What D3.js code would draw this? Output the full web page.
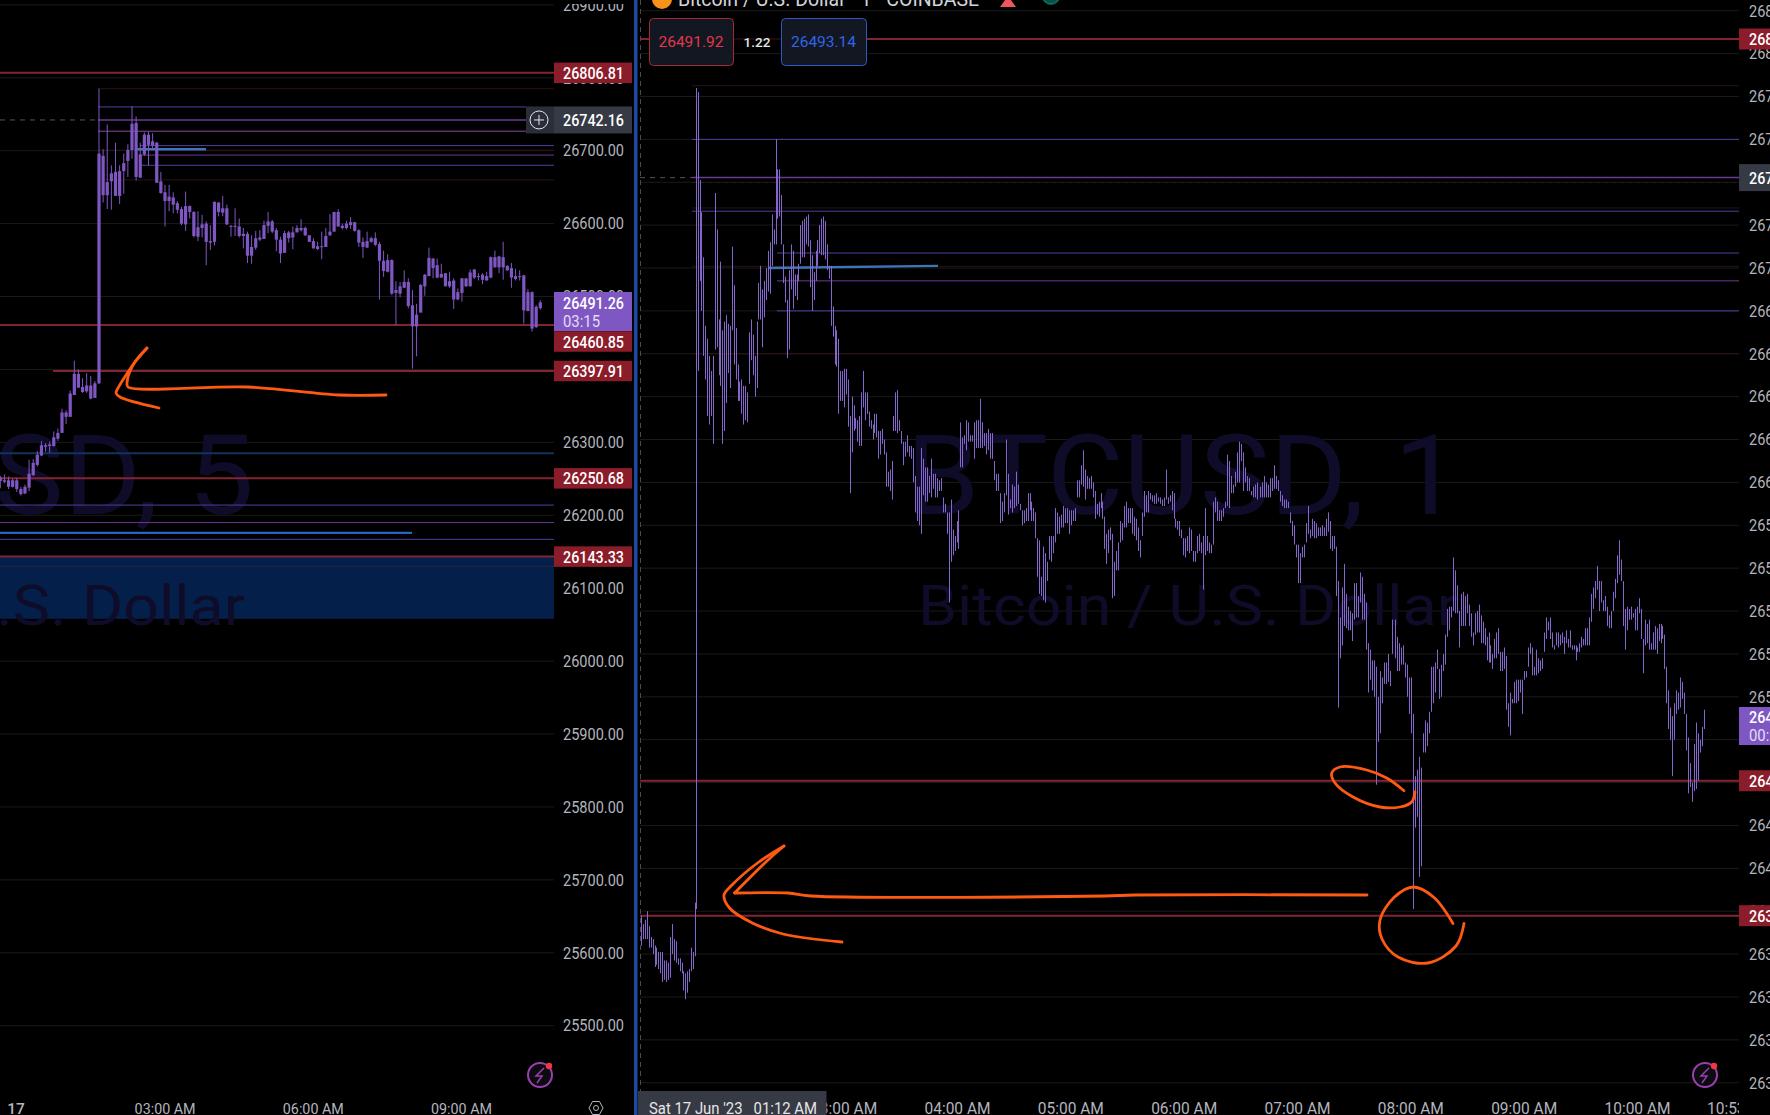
<!DOCTYPE html>
<html><head><meta charset="utf-8">
<script src="https://d3js.org/d3.v7.min.js"></script>
<style>html,body{margin:0;padding:0;background:#000;overflow:hidden}svg{display:block}text{font-family:Roboto,sans-serif}</style>
</head><body><svg id="c" width="1770" height="1115"></svg>
<script>
// ---------- 5 minute chart (left) ----------
const leftHigh=[26254,26256,26253,26250,26251,26239,26242,26276,26277,26288,26302,26299,26301,26315,26319,26346,26344,26371,26412,26400,26388,26395,26391,26384,26785,
26702,26736,26680,26711,26680,26696,26709,26761,26747,26711,26725,26726,26724,26712,26671,26653,26653,26643,26631,26623,26644,26625,26617,26617,26612,26603,26598,26630,26629,26638,26626,26598,26621,26607,26594,26589,26584,26590,26591,26604,26616,26605,26594,
26582,26590,26590,26596,26598,26606,26596,26584,26580,26575,26589,26594,26613,26616,26620,26600,26604,26609,26602,26592,26581,26589,26582,26588,26575,26563,26558,26551,26521,26520,26536,26525,26509,26490,26517,26531,26567,26553,26552,26545,26532,26534,26525,26511,26525,26525,26537,26538,26532,26532,26534,26555,26563,26556,26575,26543,26546,26538,26536,26530,26510,26507,26488,26495];
const leftBodyTop=[26252,26248,26248,26248,26248,26236,26239,26257,26272,26283,26296,26296,26297,26307,26313,26341,26341,26367,26394,26394,26376,26378,26378,26381,26696,
26693,26657,26669,26671,26672,26683,26701,26737,26738,26695,26722,26722,26713,26711,26658,26643,26637,26636,26628,26620,26624,26624,26616,26595,26599,26600,26576,26630,26629,26621,26621,26597,26597,26596,26586,26586,26568,26580,26581,26598,26603,26603,26591,
26578,26587,26588,26588,26594,26594,26594,26584,26576,26569,26569,26583,26589,26616,26616,26597,26600,26602,26602,26591,26575,26576,26580,26580,26572,26549,26550,26550,26509,26514,26520,26520,26488,26475,26516,26530,26553,26552,26543,26531,26532,26521,26522,26506,26525,26525,26533,26537,26528,26530,26528,26554,26554,26555,26554,26542,26539,26528,26528,26529,26506,26506,26486,26492];
const leftBodyBottom=[26247,26246,26239,26239,26236,26229,26230,26238,26255,26269,26282,26294,26295,26295,26305,26313,26335,26335,26365,26375,26369,26370,26360,26361,26381,
26639,26639,26658,26638,26638,26672,26686,26701,26664,26663,26695,26708,26707,26656,26642,26631,26631,26626,26619,26600,26599,26616,26583,26582,26594,26575,26574,26575,26616,26615,26599,26596,26596,26583,26583,26556,26556,26567,26578,26579,26597,26589,26578,
26559,26560,26580,26581,26588,26591,26584,26575,26566,26565,26568,26568,26584,26589,26596,26594,26594,26598,26590,26574,26568,26567,26575,26571,26549,26535,26534,26504,26505,26504,26512,26487,26459,26459,26478,26514,26528,26539,26526,26526,26514,26514,26496,26496,26505,26514,26514,26526,26527,26523,26522,26526,26540,26540,26540,26536,26526,26524,26527,26481,26480,26456,26458,26484];
const leftLow=[26237,26244,26236,26238,26232,26227,26229,26233,26254,26267,26281,26287,26286,26294,26302,26313,26325,26335,26365,26375,26368,26368,26359,26361,26380,
26629,26620,26619,26638,26627,26641,26664,26689,26659,26663,26693,26680,26703,26656,26641,26596,26617,26614,26614,26598,26590,26607,26581,26576,26581,26543,26564,26570,26610,26610,26598,26582,26583,26581,26566,26546,26545,26564,26576,26579,26587,26587,26562,
26546,26560,26574,26565,26588,26589,26583,26575,26566,26564,26551,26568,26583,26589,26596,26592,26592,26593,26589,26568,26553,26567,26574,26569,26496,26527,26533,26502,26461,26499,26512,26484,26401,26418,26478,26501,26528,26525,26525,26526,26514,26512,26483,26495,26493,26513,26514,26524,26522,26517,26522,26525,26540,26532,26523,26535,26512,26522,26522,26463,26480,26452,26457,26482];
const spikeIndex=24;

// ---------- 1 minute chart (right), [high, low] per minute ----------
const barsBeforeSpike=[[26398,26384],[26394,26387],[26396,26387],[26400,26387],[26393,26383],[26388,26383],[26387,26380],[26384,26374],[26383,26375],[26381,26373],[26381,26371],[26381,26367],[26377,26368],[26377,26367],[26376,26368],[26388,26369],[26394,26380],[26387,26377],[26386,26376],[26378,26375],[26378,26372],[26376,26371],[26372,26363],[26371,26359],[26372,26362],[26373,26367],[26383,26372],[26381,26373],[26404,26379]];
const barsSpikeToThree=[[26784,26401],[26782,26652],[26741,26694],[26726,26680],[26705,26659],[26673,26648],[26667,26631],[26659,26627],[26652,26631],[26659,26618],[26735,26662],[26718,26663],[26676,26650],[26703,26645],[26671,26618],[26675,26624],[26678,26637],[26674,26651],[26673,26644],[26710,26671],[26692,26655],[26672,26648],[26655,26638],[26647,26638],[26648,26632],[26645,26627],[26645,26629],[26642,26628],[26670,26646],[26676,26657],[26669,26650],[26659,26640],[26675,26644],[26693,26676],[26701,26676],[26690,26663],[26694,26677],[26700,26685],[26708,26689],[26712,26688],[26725,26701],[26718,26711],[26760,26711],[26746,26723],[26746,26724],[26734,26711],[26711,26693],[26696,26684],[26685,26658],[26699,26662],[26711,26690],[26708,26681],[26697,26687],[26697,26685],[26702,26694],[26720,26702],[26722,26705],[26723,26705],[26724,26711],[26725,26710],[26713,26691],[26706,26680],[26698,26685],[26708,26694],[26713,26701],[26720,26707],[26723,26706],[26724,26706],[26722,26704],[26711,26699],[26701,26695],[26701,26673],[26682,26668],[26673,26655],[26671,26654],[26667,26632],[26652,26638],[26652,26638],[26653,26635],[26653,26641],[26648,26626],[26631,26595],[26640,26614],[26636,26624],[26630,26625],[26629,26619],[26631,26617],[26642,26617],[26652,26635],[26642,26629],[26642,26632],[26633,26626],[26629,26625],[26627,26620],[26632,26623],[26632,26621],[26624,26611],[26624,26613],[26625,26618],[26620,26613],[26614,26598],[26605,26598],[26606,26596],[26610,26592],[26631,26624],[26642,26624],[26643,26623]];
const barsThreeToSix=[[26629,26624],[26624,26618],[26619,26608],[26619,26612],[26622,26614],[26617,26612],[26617,26611],[26616,26600],[26603,26586],[26598,26582],[26598,26580],[26616,26576],[26611,26594],[26607,26591],[26607,26591],[26603,26595],[26611,26593],[26604,26597],[26604,26593],[26602,26593],[26601,26596],[26602,26596],[26593,26586],[26590,26586],[26586,26576],[26586,26544],[26592,26563],[26578,26566],[26575,26568],[26582,26572],[26587,26569],[26628,26607],[26621,26607],[26622,26618],[26629,26615],[26628,26619],[26622,26619],[26622,26619],[26628,26611],[26629,26616],[26629,26616],[26639,26616],[26628,26616],[26623,26617],[26623,26613],[26625,26615],[26623,26611],[26623,26611],[26610,26601],[26604,26596],[26604,26596],[26595,26581],[26591,26582],[26595,26586],[26620,26594],[26604,26585],[26592,26588],[26599,26586],[26598,26588],[26605,26589],[26599,26590],[26590,26587],[26587,26580],[26587,26581],[26588,26582],[26595,26582],[26595,26587],[26591,26582],[26588,26582],[26586,26574],[26574,26556],[26573,26548],[26556,26547],[26570,26545],[26567,26544],[26563,26554],[26575,26564],[26575,26563],[26575,26567],[26588,26572],[26586,26576],[26584,26576],[26585,26579],[26589,26579],[26588,26581],[26588,26581],[26587,26576],[26587,26580],[26587,26582],[26588,26582],[26601,26593],[26601,26593],[26608,26599],[26615,26598],[26606,26592],[26603,26597],[26602,26597],[26603,26597],[26600,26593],[26596,26583],[26590,26585],[26591,26584],[26595,26588],[26591,26583],[26584,26569],[26576,26562],[26578,26567],[26579,26573],[26576,26546],[26563,26547],[26568,26559],[26572,26559],[26582,26572],[26581,26573],[26589,26579],[26591,26579],[26588,26581],[26588,26581],[26588,26576],[26584,26575],[26583,26573],[26579,26568],[26573,26565],[26586,26575],[26596,26584],[26594,26586],[26596,26586],[26595,26592],[26594,26591],[26594,26590],[26595,26590],[26593,26591],[26593,26590],[26592,26589],[26593,26589],[26606,26592],[26593,26590],[26594,26591],[26596,26587],[26595,26583],[26583,26579],[26582,26578],[26582,26575],[26578,26574],[26574,26566],[26574,26565],[26575,26568],[26579,26567]];
const barsSixToEight=[[26578,26568],[26568,26563],[26568,26563],[26575,26567],[26576,26568],[26572,26567],[26575,26550],[26588,26566],[26575,26568],[26572,26567],[26571,26567],[26591,26571],[26593,26586],[26591,26582],[26587,26582],[26587,26582],[26588,26584],[26591,26588],[26613,26589],[26610,26588],[26603,26595],[26599,26595],[26605,26598],[26614,26600],[26619,26600],[26618,26610],[26614,26596],[26607,26600],[26603,26596],[26602,26596],[26596,26594],[26598,26593],[26599,26593],[26600,26592],[26598,26593],[26600,26593],[26603,26593],[26600,26593],[26599,26593],[26602,26593],[26602,26596],[26608,26597],[26603,26597],[26601,26596],[26596,26591],[26594,26589],[26592,26588],[26592,26588],[26591,26588],[26586,26581],[26582,26575],[26580,26571],[26571,26565],[26571,26553],[26567,26553],[26570,26565],[26571,26565],[26581,26572],[26589,26576],[26578,26574],[26583,26575],[26582,26574],[26581,26574],[26579,26575],[26579,26575],[26580,26575],[26579,26575],[26583,26575],[26586,26577],[26582,26569],[26575,26568],[26575,26569],[26570,26547],[26554,26495],[26537,26518],[26551,26524],[26562,26533],[26548,26532],[26542,26531],[26540,26531],[26539,26526],[26553,26536],[26553,26537],[26547,26537],[26558,26544],[26556,26536],[26548,26536],[26544,26522],[26525,26502],[26522,26508],[26517,26503],[26517,26500],[26514,26459],[26500,26479],[26512,26483],[26509,26497],[26516,26506],[26516,26506],[26520,26507],[26512,26505],[26536,26520],[26536,26518],[26528,26512],[26525,26512],[26523,26515],[26524,26515],[26516,26509],[26515,26500],[26509,26492],[26509,26483],[26492,26401],[26463,26439],[26466,26444],[26472,26416],[26465,26421]];
const barsEightToEnd=[[26467,26449],[26483,26474],[26489,26474],[26488,26477],[26493,26483],[26514,26493],[26514,26497],[26516,26502],[26522,26513],[26513,26499],[26515,26500],[26520,26512],[26529,26515],[26541,26528],[26542,26531],[26542,26537],[26565,26540],[26559,26539],[26552,26539],[26540,26523],[26548,26533],[26549,26533],[26547,26533],[26548,26539],[26543,26533],[26539,26528],[26530,26524],[26539,26529],[26540,26530],[26543,26530],[26538,26525],[26535,26525],[26532,26524],[26528,26517],[26530,26516],[26524,26516],[26520,26513],[26527,26518],[26530,26518],[26532,26520],[26521,26512],[26521,26512],[26523,26513],[26519,26494],[26497,26486],[26502,26482],[26499,26497],[26507,26497],[26508,26497],[26508,26498],[26508,26502],[26508,26492],[26512,26508],[26512,26509],[26523,26514],[26525,26520],[26523,26510],[26514,26510],[26522,26510],[26518,26511],[26517,26512],[26518,26513],[26530,26521],[26537,26527],[26535,26531],[26537,26527],[26530,26523],[26524,26522],[26530,26524],[26530,26523],[26529,26524],[26530,26525],[26528,26520],[26531,26525],[26527,26523],[26531,26523],[26524,26522],[26524,26522],[26524,26517],[26523,26521],[26525,26521],[26528,26523],[26527,26524],[26532,26524],[26532,26524],[26537,26524],[26548,26535],[26551,26541],[26554,26546],[26561,26550],[26554,26540],[26554,26544],[26545,26540],[26547,26540],[26542,26533],[26538,26532],[26540,26532],[26549,26540],[26555,26546],[26566,26553],[26573,26557],[26564,26554],[26554,26533],[26541,26522],[26542,26531],[26541,26536],[26542,26536],[26539,26537],[26541,26531],[26542,26531],[26546,26539],[26541,26527],[26527,26511],[26536,26524],[26534,26525],[26536,26522],[26525,26522],[26530,26522],[26533,26522],[26532,26520],[26534,26526],[26534,26525],[26533,26527],[26529,26513],[26514,26497],[26503,26485],[26495,26480],[26491,26463],[26497,26480],[26503,26492],[26502,26494],[26509,26495],[26507,26499],[26502,26492],[26492,26475],[26481,26455],[26469,26458],[26460,26451],[26478,26456],[26488,26457],[26483,26461],[26480,26474],[26486,26477],[26494,26485]];

// ---------- axes ----------
const leftTicks=d3.range(25500,26901,100);
const rightTicks=d3.range(26320,26821,20);
const leftTimeTicks=[3,6,9], rightTimeTicks=[3,4,5,6,7,8,9,10];
const hourLabel=h=>String(h).padStart(2,"0")+":00 AM";

// ---------- drawn levels ----------
const faintLevels=[26785,26728,26700.8,26660];
const labelValues=[26806.81,26460.85,26397.91,26250.68,26143.33];
const currentPrice=26491.26, crossPrice=26742.16;
const sellPrice="26491.92", buyPrice="26493.14", spread="1.22";

const svg=d3.select("#c");
const yL=d3.scaleLinear().domain([26700,25500]).range([150.7,1025.7]);
const yR=d3.scaleLinear().domain([26806.81,26397.91]).range([39,915.7]);
const PL=554, RX0=640, RX1=1739;
const defs=svg.append("defs");
defs.append("clipPath").attr("id","cl").append("rect").attr("x",0).attr("y",0).attr("width",PL).attr("height",1090);
defs.append("clipPath").attr("id","cr").append("rect").attr("x",RX0).attr("y",0).attr("width",RX1-RX0).attr("height",1090);
defs.append("clipPath").attr("id","crb").append("rect").attr("x",RX0).attr("y",1088).attr("width",RX1-RX0).attr("height",30);
svg.append("rect").attr("width",1770).attr("height",1115).attr("fill","#000");

const L=svg.append("g").attr("clip-path","url(#cl)");
const R=svg.append("g").attr("clip-path","url(#cr)");
const GRID="#1a1a1c", RED="#842431", INDIGO="#4f3f9e", PURPLE="#6a3a96", FAINT="#2a1414";

function hline(g,y,x0,x1,c,w,dash){const l=g.append("line").attr("x1",x0).attr("x2",x1).attr("y1",y).attr("y2",y).attr("stroke",c).attr("stroke-width",w||1);if(dash)l.attr("stroke-dasharray",dash);return l;}

// grid
leftTicks.forEach(t=>hline(L,yL(t),0,PL,GRID));
rightTicks.forEach(t=>hline(R,yR(t),RX0,RX1,GRID));

// supply box
L.append("rect").attr("x",0).attr("width",PL).attr("y",yL(26143.33)).attr("height",yL(26058)-yL(26143.33)).attr("fill","#04204a");
hline(L,yL(26130),0,PL,"#2b2244");

// watermarks
const WM="#0e0c28";
function wm(g,t,x,y,fs,len){g.append("text").text(t).attr("x",x).attr("y",y).attr("font-size",fs).attr("fill",WM).attr("textLength",len).attr("lengthAdjust","spacingAndGlyphs");}
wm(L,"BTCUSD, 5",-300,514,112,554);
wm(R,"BTCUSD, 1",906,514,112,554);
wm(L,"Bitcoin / U.S. Dollar",-295,625,56,540);
wm(R,"Bitcoin / U.S. Dollar",918,625,56,540);

// levels: left chart
faintLevels.forEach(v=>hline(L,yL(v),98,PL,FAINT));
hline(L,yL(crossPrice),0,98,"#555",1,"5 5");
hline(L,yL(26760),98,526,INDIGO);
hline(L,yL(26742.16),98,526,PURPLE,1.5);
hline(L,yL(26726.5),98,526,PURPLE);
hline(L,yL(26707),140,PL,INDIGO);
hline(L,yL(26694),140,PL,PURPLE);
hline(L,yL(26680),140,PL,INDIGO);
hline(L,yL(26702),137,206,"#3e74b8",2.4);
hline(L,yL(26285),0,PL,"#12325f",2);
hline(L,yL(26214),0,PL,INDIGO);
hline(L,yL(26190),0,PL,PURPLE);
hline(L,yL(26176),0,412,"#2a62c8",2.2);
hline(L,yL(26167),0,PL,INDIGO);
hline(L,yL(26806.81),0,PL,RED,2);
hline(L,yL(26460.85),0,PL,RED,2);
hline(L,yL(26397.91),53,PL,RED,2);
hline(L,yL(26250.68),0,PL,RED,2);
hline(L,yL(26143.33),0,PL,RED,2);

// levels: right chart
faintLevels.forEach(v=>hline(R,yR(v),692,RX1,FAINT));
hline(R,yR(crossPrice),RX0,692,"#555",1,"5 5");
hline(R,yR(crossPrice)+5,692,RX1,"#202024",1,"4 4");
[26760,26726.5].forEach(v=>hline(R,yR(v),692,RX1,INDIGO));
hline(R,yR(26742.16),692,RX1,PURPLE,1.5);
hline(R,yR(26707),777,RX1,INDIGO);
hline(R,yR(26694),777,RX1,PURPLE);
hline(R,yR(26680),777,RX1,INDIGO);
R.append("line").attr("x1",768).attr("x2",938).attr("y1",yR(26700)).attr("y2",yR(26701)).attr("stroke","#3e74b8").attr("stroke-width",2.4);
hline(R,yR(26806.81),RX0,RX1,RED,2);
hline(R,yR(26460.85),RX0,RX1,RED,2);
hline(R,yR(26397.91),RX0,RX1,RED,2);

// candles left
const n=leftHigh.length;
const xL=d3.scaleLinear().domain([0,spikeIndex,n-1]).range([0.3,99,540.3]);
const CAND="#7e57c2";
const cg=L.append("g");
cg.selectAll("line").data(d3.range(n)).join("line")
 .attr("x1",i=>xL(i)).attr("x2",i=>xL(i)).attr("y1",i=>yL(leftHigh[i])).attr("y2",i=>yL(leftLow[i]))
 .attr("stroke",CAND).attr("stroke-width",1);
cg.selectAll("rect").data(d3.range(n)).join("rect")
 .attr("x",i=>xL(i)-1.6).attr("width",3.2).attr("y",i=>yL(leftBodyTop[i])).attr("height",i=>Math.max(1,yL(leftBodyBottom[i])-yL(leftBodyTop[i])))
 .attr("fill",CAND);

// bars right
const sections=[barsBeforeSpike,barsSpikeToThree,barsThreeToSix,barsSixToEight,barsEightToEnd];
const bars=sections.flat();
const cum=[0];sections.forEach(s=>cum.push(cum[cum.length-1]+s.length));
const xR=d3.scaleLinear()
 .domain([0,cum[1]-1,cum[1],cum[2]-1,cum[2],cum[3]-1,cum[3],cum[4]-1,cum[4],cum[5]-1])
 .range([641,695,695.7,897.3,899.3,1189.3,1191,1420.7,1421.3,1704]);
const px=(d,i)=>Math.round(xR(i))+.5;
R.append("g").selectAll("line").data(bars).join("line")
 .attr("x1",px).attr("x2",px).attr("y1",d=>yR(d[0])).attr("y2",d=>yR(d[1]))
 .attr("stroke","#8466cc").attr("stroke-width",1);

// header / order panel
svg.append("circle").attr("cx",662).attr("cy",-1).attr("r",10).attr("fill","#f7931a");
svg.append("text").text("Bitcoin / U.S. Dollar · 1 · COINBASE").attr("x",678).attr("y",6).attr("font-size",19.5).attr("fill","#d1d4dc");
svg.append("path").attr("d","M1000 7L1008 -4L1016 7Z").attr("fill","#f2545f");
svg.append("circle").attr("cx",1051).attr("cy",-4).attr("r",8).attr("fill","#0a4f45").attr("stroke","#0b6a58").attr("stroke-width",2);
svg.append("rect").attr("x",733).attr("y",28).attr("width",48).attr("height",22).attr("fill","#000").attr("opacity",.75);
function box(x,w,stroke,t,c){svg.append("rect").attr("x",x+.5).attr("y",18.5).attr("width",w).attr("height",47).attr("rx",4).attr("fill","#131722").attr("stroke",stroke);
 svg.append("text").text(t).attr("x",x+w/2-32.5).attr("y",47).attr("font-size",15.5).attr("fill",c).attr("textLength",65).attr("lengthAdjust","spacingAndGlyphs");}
box(649,84,"#a52a35",sellPrice,"#e0394a");
box(781,85,"#2a5bc4",buyPrice,"#2f66e6");
svg.append("text").text(spread).attr("x",757).attr("y",47).attr("text-anchor","middle").attr("font-size",13.5).attr("font-weight",500).attr("fill","#e6e6e6");

// panels right of plots and y axes
svg.append("rect").attr("x",PL).attr("y",0).attr("width",80).attr("height",1115).attr("fill","#000");
svg.append("rect").attr("x",RX1).attr("y",0).attr("width",31).attr("height",1115).attr("fill","#000");
function styleAxis(g){g.select(".domain").remove();g.selectAll(".tick line").remove();
 g.selectAll("text").attr("fill","#b2b5be").attr("font-size",16.5).attr("font-family","Roboto,sans-serif").attr("textLength",61).attr("lengthAdjust","spacingAndGlyphs");}
svg.append("g").attr("transform",`translate(${PL},0)`).call(d3.axisRight(yL).tickValues(leftTicks).tickSize(0).tickPadding(9).tickFormat(d3.format(".2f"))).call(styleAxis);
svg.append("g").attr("transform",`translate(${RX1},0)`).call(d3.axisRight(yR).tickValues(rightTicks).tickSize(0).tickPadding(10).tickFormat(d3.format(".2f"))).call(styleAxis);
// top edge hides the upper part of the highest left tick label
svg.append("rect").attr("x",PL).attr("y",0).attr("width",80).attr("height",4).attr("fill","#000");

function tag(x,y,h,w,fill,t,sub,tx){
 svg.append("rect").attr("x",x).attr("y",y-h/2).attr("width",w).attr("height",h).attr("fill",fill);
 svg.append("text").text(t).attr("x",tx).attr("y",y+(sub?-3:6)).attr("font-size",16.5).attr("font-weight",500).attr("fill","#fff").attr("textLength",61).attr("lengthAdjust","spacingAndGlyphs");
 if(sub)svg.append("text").text(sub).attr("x",tx).attr("y",y+15).attr("font-size",16.5).attr("fill","#e4dcf4").attr("textLength",37).attr("lengthAdjust","spacingAndGlyphs");
}
const RT="#8b1c2a";
tag(PL,311.5,39,78,"#7e57c2",d3.format(".2f")(currentPrice),"03:15",563);
tag(RX1,726,38,31,"#7e57c2",d3.format(".2f")(currentPrice),"00:15",1749);
labelValues.forEach(v=>{
 const shifted=v===26460.85?341.5:yL(v);   // pushed below the live-price tag
 tag(PL,shifted,20.5,78,RT,d3.format(".2f")(v),null,563);
 tag(RX1,yR(v),21,31,RT,d3.format(".2f")(v),null,1749);});
tag(PL,yL(crossPrice),27,78,"#363a45",d3.format(".2f")(crossPrice),null,563);
tag(RX1,yR(crossPrice),27,31,"#363a45",d3.format(".2f")(crossPrice),null,1749);
svg.append("rect").attr("x",526).attr("y",yL(crossPrice)-13.5).attr("width",28).attr("height",27).attr("fill","#2a2e39");
svg.append("circle").attr("cx",539).attr("cy",yL(crossPrice)).attr("r",9).attr("fill","none").attr("stroke","#e6e6e6");
svg.append("path").attr("d",`M534 ${yL(crossPrice)}H544M539 ${yL(crossPrice)-5}V${yL(crossPrice)+5}`).attr("stroke","#e6e6e6");

// separator and crosshair
svg.append("rect").attr("x",634).attr("y",0).attr("width",3.5).attr("height",1115).attr("fill","#1d4aa0");
svg.append("line").attr("x1",640.5).attr("x2",640.5).attr("y1",0).attr("y2",1092).attr("stroke","#4a4a50").attr("stroke-dasharray","5 4");

// time axes
const tL=d3.scaleLinear().domain([3,9]).range([164.6,461]);
const tR=d3.scaleLinear().domain([4,10]).range([957,1637]);
const ax=(fs,len)=>(g)=>{g.select(".domain").remove();g.selectAll(".tick line").remove();g.selectAll("text").attr("fill","#b2b5be").attr("font-size",fs).attr("font-family","Roboto,sans-serif").attr("dy",0).attr("textLength",len).attr("lengthAdjust","spacingAndGlyphs");};
svg.append("g").attr("transform","translate(0,1114)").call(d3.axisBottom(tL).tickValues(leftTimeTicks).tickSize(0).tickPadding(0).tickFormat(hourLabel)).call(ax(15.5,61));
svg.append("text").text("17").attr("x",16).attr("y",1114).attr("text-anchor","middle").attr("font-size",15.5).attr("font-weight",500).attr("fill","#b2b5be");
svg.append("g").attr("transform","translate(0,1114)").call(d3.axisBottom(tR).tickValues(rightTimeTicks).tickSize(0).tickPadding(0).tickFormat(hourLabel)).call(ax(16,66));
svg.append("g").attr("clip-path","url(#crb)").append("text").text("10:53 AM").attr("x",1707).attr("y",1114).attr("font-size",16).attr("fill","#b2b5be").attr("textLength",66).attr("lengthAdjust","spacingAndGlyphs");
svg.append("rect").attr("x",638).attr("y",1091).attr("width",188.5).attr("height",24).attr("fill","#363a45");
svg.append("text").text("Sat 17 Jun '23   01:12 AM").attr("x",649).attr("y",1114).style("white-space","pre").attr("font-size",16).attr("fill","#e6e6e6").attr("textLength",168).attr("lengthAdjust","spacingAndGlyphs");

// gear
svg.append("path").attr("d","M589 1108L592.5 1101.5H599.5L603 1108L599.5 1114.5H592.5Z").attr("fill","none").attr("stroke","#b2b5be");
svg.append("circle").attr("cx",596).attr("cy",1108).attr("r",2.5).attr("fill","none").attr("stroke","#b2b5be");
// lightning badges
function bolt(x,y){svg.append("circle").attr("cx",x).attr("cy",y).attr("r",12).attr("fill","#0b0b10").attr("stroke","#9a3fb0").attr("stroke-width",2);
 svg.append("path").attr("d",`M${x+4} ${y-7}L${x-4} ${y+1}H${x+2}L${x-3} ${y+8}`).attr("fill","none").attr("stroke","#9a3fb0").attr("stroke-width",1.5);
 svg.append("circle").attr("cx",x+9).attr("cy",y-9).attr("r",3.2).attr("fill","#f23645");}
bolt(540,1075);bolt(1705,1075);

// hand-drawn annotations (free strokes over the chart)
const pen=d3.line().curve(d3.curveCatmullRom.alpha(.5));
function stroke(pts){svg.append("path").attr("d",pen(pts)).attr("fill","none").attr("stroke","#ff5a14").attr("stroke-width",2.8).attr("stroke-linecap","round").attr("stroke-linejoin","round");}
stroke([[159,408],[120,397],[116,393],[117,390],[128,372],[135,362],[147,348]]);
stroke([[147,348],[133,365],[127,383],[128,387],[248,387],[339,395],[386,395]]);
stroke([[784,846],[757.5,863],[732,885],[724,895],[729.5,908],[752.4,923],[783,934],[842,942]]);
stroke([[784,846],[768,860],[734.6,893]]);
stroke([[734.6,893],[788,893],[811,896],[1104.5,896],[1135,895],[1367,895]]);
stroke([[1404,790.7],[1386.7,778],[1366.7,770],[1340,767],[1331.7,773],[1335,783],[1353,797],[1380,807],[1400,807],[1411.7,802],[1415,792]]);
stroke([[1453,923.5],[1434,897.5],[1413.5,887],[1394,897.5],[1380,920],[1382,939],[1398,957],[1428,963],[1456,946],[1464,923.5]]);
</script></body></html>
